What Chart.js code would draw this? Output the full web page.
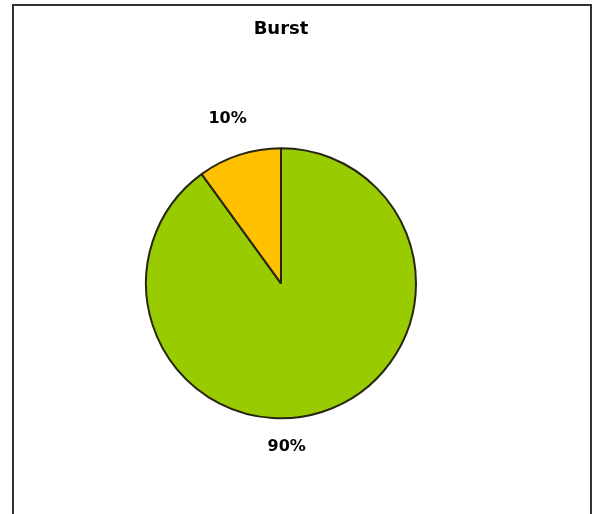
<!DOCTYPE html>
<html>
<head>
<meta charset="utf-8">
<title>Burst</title>
<script src="https://cdn.jsdelivr.net/npm/chart.js@4/dist/chart.umd.min.js"></script>
<style>
    html, body { margin: 0; padding: 0; background: #ffffff; }
    #grafico { display: block; }
</style>
</head>
<body>
<canvas id="grafico" width="597" height="514"></canvas>
<script>
// Dados do gráfico
const categorias = ['Sem burst', 'Burst'];
const valores = [90, 10];
const cores = ['#99cc00', '#ffc000'];
const titulo = 'Burst';

// Moldura em volta do gráfico e rótulos de porcentagem fora das fatias
const pluginMoldura = {
    id: 'moldura',
    beforeDraw(chart) {
        const ctx = chart.ctx;
        ctx.save();
        ctx.fillStyle = '#ffffff';
        ctx.fillRect(0, 0, chart.width, chart.height);
        ctx.strokeStyle = '#333333';
        ctx.lineWidth = 2;
        ctx.beginPath();
        ctx.moveTo(13, chart.height + 5);
        ctx.lineTo(13, 5);
        ctx.lineTo(591, 5);
        ctx.lineTo(591, chart.height + 5);
        ctx.stroke();
        ctx.restore();
    },
    afterDatasetsDraw(chart, args, opts) {
        const ctx = chart.ctx;
        const meta = chart.getDatasetMeta(0);
        const total = valores.reduce((a, b) => a + b, 0);
        ctx.save();
        ctx.fillStyle = '#000000';
        ctx.font = opts.fonte;
        ctx.textAlign = 'center';
        ctx.textBaseline = 'middle';
        meta.data.forEach((arco, i) => {
            const p = arco.getProps(['x', 'y', 'startAngle', 'endAngle', 'outerRadius'], true);
            const ajuste = opts.posicoes[i] || {};
            const ang = ajuste.angulo !== undefined
                ? ajuste.angulo * Math.PI / 180
                : (p.startAngle + p.endAngle) / 2;
            const dist = p.outerRadius + (ajuste.distancia || 30);
            const texto = Math.round(valores[i] / total * 100) + '%';
            ctx.fillText(texto, p.x + Math.cos(ang) * dist, p.y + Math.sin(ang) * dist);
        });
        ctx.restore();
    }
};

const ctxGrafico = document.getElementById('grafico').getContext('2d');

new Chart(ctxGrafico, {
    type: 'pie',
    data: {
        labels: categorias,
        datasets: [{
            data: valores,
            backgroundColor: cores,
            borderColor: '#262610',
            borderWidth: 2
        }]
    },
    options: {
        responsive: false,
        animation: false,
        layout: {
            padding: { left: 145, right: 180, top: 19, bottom: 94 }
        },
        plugins: {
            legend: { display: false },
            tooltip: { enabled: false },
            title: {
                display: true,
                text: titulo,
                color: '#000000',
                font: { family: 'DejaVu Sans', size: 18, weight: 'bold', lineHeight: 1.2 },
                padding: { top: 0, bottom: 106 }
            },
            moldura: {
                fonte: 'bold 16px "DejaVu Sans"',
                posicoes: [
                    { angulo: 88, distancia: 29 },
                    { distancia: 38 }
                ]
            }
        }
    },
    plugins: [pluginMoldura]
});
</script>
</body>
</html>
